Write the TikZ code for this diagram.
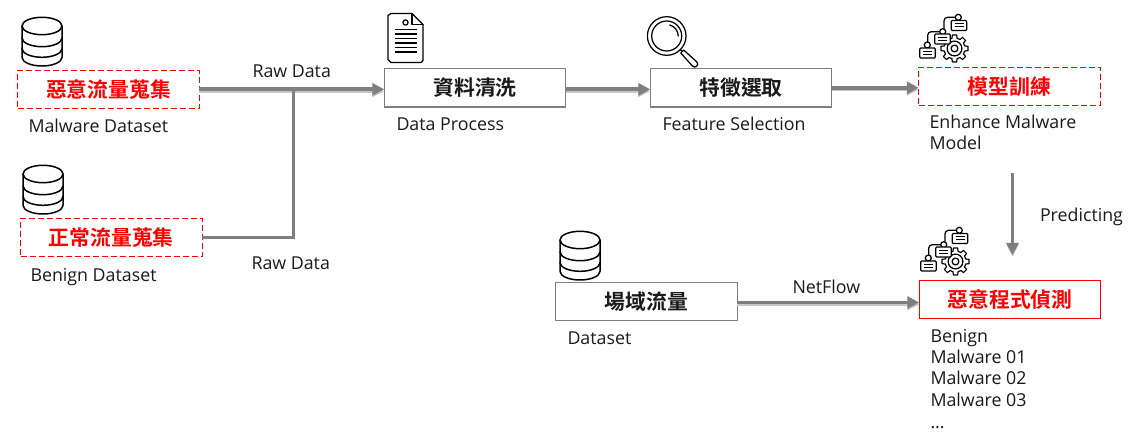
\documentclass[tikz,border=0pt]{standalone}
\usepackage{fontspec}
\setmainfont{Open Sans}
\newfontfamily\cjk{Noto Sans CJK TC}[BoldFont={* Bold}]
\usetikzlibrary{arrows.meta,calc}
\definecolor{linegray}{HTML}{7F7F7F}
\definecolor{inkc}{HTML}{1A1A1A}
\tikzset{
  x=1pt,y=-1pt,
  box/.style={minimum width=181.5,minimum height=38.5,inner sep=0,outer sep=0,
     font=\cjk\bfseries\fontsize{20.8}{24}\selectfont},
  plainbox/.style={box,draw=linegray,line width=1.1,text=inkc},
  dashbox/.style={box,draw=red,line width=1,dash pattern=on 6 off 3,text=red},
  redbox/.style={box,draw=red,line width=1,text=red},
  lab/.style={anchor=base west,inner sep=0,outer sep=0,text=inkc,font=\fontsize{17.8}{21}\selectfont},
  flow/.style={draw=linegray,line width=3.6,-{Triangle[length=12,width=12]},
     preaction={draw=black!22,line width=3.2,-{Triangle[length=12,width=11]},transform canvas={yshift=-2pt}}},
  plainline/.style={draw=linegray,line width=3},
  ico/.style={draw=black,line width=1.25,line join=round,line cap=round,fill=none},
  dbicon/.pic={
    \draw[ico,line width=1.5] (-20,-16) -- (-20,15.3) arc[start angle=180,end angle=0,x radius=20,y radius=8.7] -- (20,-16);
    \draw[ico,line width=1.5] (0,-16) ellipse[x radius=20,y radius=8.7];
    \draw[ico,line width=1.5] (-20,-4) arc[start angle=180,end angle=0,x radius=20,y radius=8.7];
    \draw[ico,line width=1.5] (-20,6.6) arc[start angle=180,end angle=0,x radius=20,y radius=8.7];
  },
  docicon/.pic={
    \draw[ico] (24,0) -- (3,0) -- (0,2) -- (0,46) -- (3,49) -- (33,49) -- (35,47) -- (35,11) -- cycle;
    \draw[ico] (24,0) -- (24,11) -- (35,11);
    \draw[ico] (17.5,9) circle[radius=2.6];
    \draw[ico,line cap=butt] (7,16) -- (29,16) (7,20.5) -- (29,20.5) (7,25) -- (29,25) (7,29.5) -- (29,29.5) (7,34) -- (29,34) (7,38.5) -- (29,38.5);
  },
  lensicon/.pic={
    \draw[ico] (0,0) circle[radius=19.3];
    \draw[ico] (0,0) circle[radius=15];
    \draw[ico] (3,-11) arc[start angle=-75,end angle=0,radius=11.5];
    \draw[ico] (13.5,13.5) -- (15.5,15.5);
    \draw[ico] (17,14) -- (30.1,25.9) arc[start angle=-45,end angle=135,radius=3] -- (14,17) -- cycle;
  },
  gearicon/.pic={
    \draw[ico,line width=1.15] (-14:10.5)
      \foreach \a in {0,45,...,315}{
        -- (\a-14:10.5) -- (\a-9:13.7) -- (\a+9:13.7) -- (\a+14:10.5)
      } -- cycle;
    \draw[ico] (0,0) circle[radius=7.4];
    \draw[ico] (0,0) circle[radius=3.4];
    \draw[ico,rounded corners=3.5] (0.8,-31.2) -- (-10.5,-31.2) -- (-10.5,-20);
    \draw[ico,rounded corners=3.5] (-14.8,-16.8) -- (-26.8,-16.8) -- (-26.8,-6.5);
    \draw[ico,fill=white] (3.8,-31.2) circle[radius=3];
    \draw[ico,fill=white] (-11.8,-16.8) circle[radius=3];
    \draw[ico,fill=white] (-27.2,-3.5) circle[radius=3];
    \foreach \bx/\by in {4.5/-23,-12/-9.5,-27/4.5}{
      \draw[ico,fill=white,rounded corners=1] (\bx-7.7,\by-5) rectangle (\bx+7.7,\by+5);
      \draw[ico,line cap=butt,line width=1] (\bx-4.5,\by-1.5) -- (\bx+4.5,\by-1.5) (\bx-4.5,\by+1.5) -- (\bx+4.5,\by+1.5);
    }
  },
}
\begin{document}
\begin{tikzpicture}
\useasboundingbox (0,0) rectangle (1137,446);
% icons
\pic at (42,42) {dbicon};
\pic at (43,190) {dbicon};
\pic at (580,256) {dbicon};
\pic at (388,13.5) {docicon};
\pic at (666.7,36) {lensicon};
\pic at (954.5,48.5) {gearicon};
\pic at (955.5,261.5) {gearicon};
% boxes
\node[dashbox] (mal) at (108.5,89.3) {惡意流量蒐集};
\node[dashbox] (ben) at (111.3,237.3) {正常流量蒐集};
\node[plainbox] (clean) at (475,87.8) {資料清洗};
\node[plainbox] (feat) at (741,87.8) {特徵選取};
\node[dashbox] (train) at (1009.5,86.3) {模型訓練};
\node[redbox] (det) at (1010,299.5) {惡意程式偵測};
\node[plainbox] (field) at (646.3,301.5) {場域流量};
% labels
\node[lab] (l1) at (28.5,133) {Malware Dataset};
\node[lab] (l2) at (30.5,281) {Benign Dataset};
\node[lab] (l3) at (252.5,78) {Raw Data};
\node[lab] (l4) at (251.5,269.5) {Raw Data};
\node[lab] (l5) at (396.5,131) {Data Process};
\node[lab] (l6) at (662.5,131) {Feature Selection};
\node[lab] (l7) at (929.5,129) {Enhance Malware};
\node[lab] (l8) at (929.5,150) {Model};
\node[lab] (l9) at (1040,222) {Predicting};
\node[lab] (l10) at (792.5,293) {NetFlow};
\node[lab] (l11) at (567.5,344.5) {Dataset};
\node[lab] (l12) at (930.5,342.5) {Benign};
\node[lab] (l13) at (930.5,363.5) {Malware 01};
\node[lab] (l14) at (930.5,384.5) {Malware 02};
\node[lab] (l15) at (930.5,406) {Malware 03};
\node[lab] (l16) at (930.5,428) {...};
% connectors
\coordinate (j) at (293,89);
\coordinate (pstart) at (1012.5,173);
\coordinate (pend) at (1012.5,255);
\path[flow] (mal.east) -- (mal.east -| clean.west);
\draw[plainline] (ben.east) -| (j);
\path[flow] (clean.east |- mal.east) -- (feat.west |- mal.east);
\path[flow] (feat.east) -- (feat.east -| train.west);
\path[flow] ($(field.east)+(0,1)$) -- ($(det.west)+(0,3)$);
\path[flow] (pstart) -- (pend);
\end{tikzpicture}
\end{document}
